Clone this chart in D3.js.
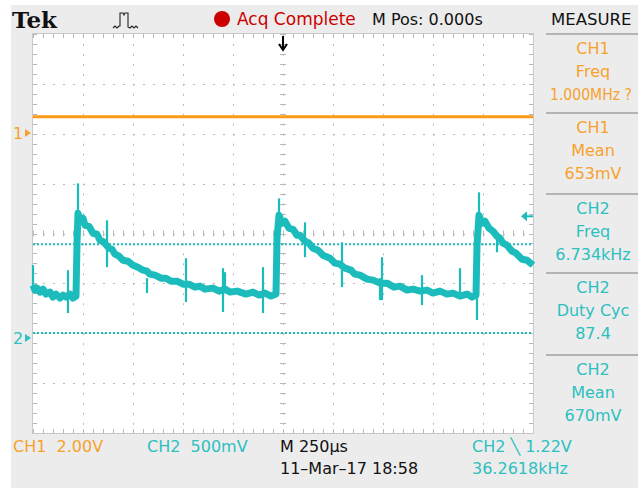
<!DOCTYPE html>
<html><head><meta charset="utf-8">
<script src="https://cdn.jsdelivr.net/npm/d3@7"></script>
<style>html,body{margin:0;padding:0;background:#fff}svg{display:block}</style>
</head><body>
<script>
// ---------- DATA ----------
// CH2 trace: time (µs) and voltage (V), read from screen (250 µs/div, 500 mV/div)
const ch2Time = [-1250,-1240,-1230,-1215,-1200,-1185,-1165,-1150,-1135,-1115,-1100,-1085,-1065,-1050,-1035,
  -1030,-1025,-1015,-1000,-990,-970,-950,-930,-915,-895,-870,-855,-840,-820,-800,-775,-750,-725,-700,-680,-665,-640,-610,-585,-560,-530,-500,-470,-440,-415,-390,-350,-320,-290,-265,-230,-185,-150,-120,-90,-60,-35,
  -30,-20,-5,10,30,50,70,85,110,130,150,175,200,235,260,285,310,340,360,385,420,450,485,520,555,585,620,650,685,720,750,785,820,850,885,920,945,965,
  970,980,995,1010,1030,1050,1070,1085,1100,1120,1145,1165,1195,1220,1250];
const ch2Volt = [0.53,0.48,0.50,0.46,0.49,0.44,0.46,0.41,0.44,0.40,0.43,0.41,0.44,0.40,0.42,
  0.95,1.25,1.18,1.20,1.13,1.12,1.05,1.04,0.98,0.96,0.90,0.89,0.84,0.82,0.78,0.77,0.73,0.71,0.68,0.67,0.64,0.63,0.60,0.60,0.57,0.57,0.54,0.54,0.51,0.52,0.49,0.50,0.47,0.49,0.46,0.47,0.44,0.46,0.43,0.45,0.42,0.44,
  1.00,1.23,1.15,1.17,1.10,1.09,1.03,1.03,0.97,0.95,0.90,0.88,0.83,0.80,0.75,0.74,0.70,0.68,0.64,0.63,0.59,0.58,0.55,0.55,0.51,0.52,0.48,0.49,0.47,0.48,0.45,0.47,0.44,0.45,0.42,0.44,0.41,0.43,
  0.93,1.23,1.15,1.17,1.10,1.07,1.02,1.00,0.95,0.93,0.87,0.85,0.79,0.78,0.73];
// Noise spikes on CH2: time, top voltage, bottom voltage
const spikeTime = [-1250,-1075,-1025,-880,-680,-485,-300,-290,-100,-20,110,295,485,495,695,885,970,980,1070];
const spikeHi   = [0.73,0.68,1.55,1.18,0.60,0.80,0.70,0.66,0.71,1.40,1.16,0.96,0.60,0.81,0.63,0.70,0.93,1.46,1.00];
const spikeLo   = [0.50,0.25,1.20,0.71,0.45,0.36,0.26,0.45,0.25,1.10,0.81,0.51,0.38,0.38,0.33,0.44,0.18,1.10,0.86];
// CH1 trace (V), 2 V/div
const ch1Time = [-1250, 1250];
const ch1Volt = [0.653, 0.653];
// CH2 dotted reference levels (V)
const ch2RefLevels = [0.94, 0.05];
const triggerLevel = 1.22;
// Grid divisions
const xDivs = d3.range(0, 11);
const yDivs = d3.range(0, 9);
// Measurement panel
const measTitles = ["CH1","CH1","CH2","CH2","CH2"];
const measNames  = ["Freq","Mean","Freq","Duty Cyc","Mean"];
const measValues = ["1.000MHz ?","653mV","6.734kHz","87.4","670mV"];
const measChan   = [1,1,2,2,2];

// ---------- STYLE ----------
const W = 638, H = 488;
const ORANGE = "#f7a22c", ORANGE_LINE = "#ff9a14", CYAN = "#1cbcbc", CYAN_TXT = "#2cc0c0";
const FONT = "DejaVu Sans, sans-serif";
const plot = {x0: 33, x1: 533, y0: 34, y1: 433};
const divH = (plot.y1 - plot.y0) / 8;

const svg = d3.select("body").append("svg").attr("width", W).attr("height", H);
svg.append("rect").attr("width", W).attr("height", H).attr("fill", "#fff");
svg.append("rect").attr("x", 11).attr("y", 5).attr("width", W - 11).attr("height", H - 5).attr("fill", "#ececec");
svg.append("rect").attr("x", plot.x0).attr("y", plot.y0).attr("width", plot.x1 - plot.x0).attr("height", plot.y1 - plot.y0).attr("fill", "#fff");

// scales
const xDiv = d3.scaleLinear().domain([0, 10]).range([plot.x0, plot.x1]);
const yDiv = d3.scaleLinear().domain([0, 8]).range([plot.y0, plot.y1]);
const xT = d3.scaleLinear().domain([-1250, 1250]).range([plot.x0, plot.x1]);
const gnd2 = 338, gnd1 = 133;
const y2 = d3.scaleLinear().domain([0, 0.5]).range([gnd2, gnd2 - divH]);
const y1 = d3.scaleLinear().domain([0, 2]).range([gnd1, gnd1 - divH]);

// ---------- GRID ----------
const grid = svg.append("g").attr("stroke", "#b8b8b8").attr("stroke-width", 1);
const stepMinor = divH / 5;
xDivs.slice(1, 10).forEach(d => {
  const x = Math.round(xDiv(d)) + 0.5;
  grid.append("line").attr("x1", x).attr("x2", x).attr("y1", plot.y0).attr("y2", plot.y1)
    .attr("stroke-dasharray", "2," + (stepMinor - 2).toFixed(2));
});
yDivs.slice(1, 8).forEach(d => {
  const y = Math.round(yDiv(d)) + 0.5;
  grid.append("line").attr("x1", plot.x0).attr("x2", plot.x1).attr("y1", y).attr("y2", y)
    .attr("stroke-dasharray", "2,8");
});
const xMinor = d3.range(0, 51).map(i => plot.x0 + i * 10);
const yMinor = d3.range(0, 41).map(i => plot.y0 + i * divH / 5);
xMinor.forEach(x => {
  const xx = Math.round(x) + 0.5;
  grid.append("line").attr("x1", xx).attr("x2", xx).attr("y1", plot.y0).attr("y2", plot.y0 + 4);
  grid.append("line").attr("x1", xx).attr("x2", xx).attr("y1", plot.y1 - 4).attr("y2", plot.y1);
  const yc = yDiv(4);
  grid.append("line").attr("x1", xx).attr("x2", xx).attr("y1", yc - 3).attr("y2", yc + 3);
});
yMinor.forEach(y => {
  const yy = Math.round(y) + 0.5;
  grid.append("line").attr("x1", plot.x0).attr("x2", plot.x0 + 4).attr("y1", yy).attr("y2", yy);
  grid.append("line").attr("x1", plot.x1 - 4).attr("x2", plot.x1).attr("y1", yy).attr("y2", yy);
  const xc = xDiv(5);
  grid.append("line").attr("x1", xc - 3).attr("x2", xc + 3).attr("y1", yy).attr("y2", yy);
});
svg.append("rect").attr("x", plot.x0 - 0.5).attr("y", plot.y0 - 0.5).attr("width", plot.x1 - plot.x0 + 1).attr("height", plot.y1 - plot.y0 + 1)
  .attr("fill", "none").attr("stroke", "#c8c8c8");

// ---------- REFERENCE LEVELS ----------
ch2RefLevels.forEach(v => {
  svg.append("line").attr("x1", plot.x0).attr("x2", plot.x1).attr("y1", y2(v)).attr("y2", y2(v))
    .attr("stroke", CYAN).attr("stroke-width", 2).attr("stroke-dasharray", "2,2");
});

// ---------- TRACES ----------
const ch1 = ch1Time.map((t, i) => [t, ch1Volt[i]]);
svg.append("path").datum(ch1).attr("fill", "none").attr("stroke", ORANGE_LINE).attr("stroke-width", 3)
  .attr("d", d3.line().x(d => xT(d[0])).y(d => y1(d[1])));

const ch2 = ch2Time.map((t, i) => [t, ch2Volt[i]]);
svg.append("path").datum(ch2).attr("fill", "none").attr("stroke", CYAN).attr("stroke-width", 7)
  .attr("stroke-linejoin", "round")
  .attr("d", d3.line().x(d => xT(d[0])).y(d => y2(d[1])));
svg.append("g").selectAll("line").data(spikeTime).join("line")
  .attr("x1", d => xT(d)).attr("x2", d => xT(d))
  .attr("y1", (d, i) => y2(spikeHi[i])).attr("y2", (d, i) => y2(spikeLo[i]))
  .attr("stroke", CYAN).attr("stroke-width", 2.2);

// ---------- MARKERS ----------
function chMarker(label, y, color) {
  svg.append("text").attr("x", 13).attr("y", y + 6).attr("font-family", FONT).attr("font-size", 16)
    .attr("fill", color).text(label);
  svg.append("path").attr("d", `M25,${y - 4}L31,${y}L25,${y + 4}Z`).attr("fill", color);
}
chMarker("1", gnd1, ORANGE);
chMarker("2", gnd2, CYAN_TXT);
const xTrig = xT(0);
svg.append("path").attr("d", `M${xTrig},36V49M${xTrig - 4},44L${xTrig},50L${xTrig + 4},44`)
  .attr("stroke", "#000").attr("stroke-width", 2).attr("fill", "none");
const yTl = y2(triggerLevel);
svg.append("path").attr("d", `M521,${yTl}L527,${yTl - 5}L527,${yTl + 5}Z`).attr("fill", CYAN);
svg.append("line").attr("x1", 526).attr("x2", 533).attr("y1", yTl).attr("y2", yTl).attr("stroke", CYAN).attr("stroke-width", 2);

// ---------- HEADER ----------
svg.append("text").attr("x", 12).attr("y", 28).attr("font-family", "DejaVu Serif, serif").attr("font-weight", "bold")
  .attr("font-size", 23).attr("fill", "#111").text("Tek");
svg.append("path").attr("d", "M113,28l2,-2l2,2l2,-2l1,0V13h3l1,2l1,-2h3V27l2,1l2,-2l2,2l2,-2l2,2")
  .attr("fill", "none").attr("stroke", "#222").attr("stroke-width", 1.1);
svg.append("circle").attr("cx", 222).attr("cy", 19).attr("r", 8).attr("fill", "#cc0000");
svg.append("text").attr("x", 237).attr("y", 25).attr("font-family", FONT).attr("font-size", 17).attr("fill", "#cc0000").text("Acq Complete");
svg.append("text").attr("x", 372).attr("y", 25).attr("font-family", FONT).attr("font-size", 16).attr("fill", "#111").text("M Pos: 0.000s");
svg.append("text").attr("x", 551).attr("y", 25).attr("font-family", FONT).attr("font-size", 16.5).attr("fill", "#111").text("MEASURE");

// ---------- MEASURE PANEL ----------
const sepY = [34, 113, 194, 273, 355];
sepY.forEach(y => svg.append("line").attr("x1", 546).attr("x2", 638).attr("y1", y).attr("y2", y)
  .attr("stroke", "#b4b4b4").attr("stroke-width", 2));
measTitles.forEach((t, i) => {
  const c = measChan[i] === 1 ? ORANGE : CYAN_TXT;
  const base = sepY[i] + 20;
  [t, measNames[i], measValues[i]].forEach((s, j) => {
    const txt = svg.append("text").attr("x", 593).attr("y", base + j * 23).attr("text-anchor", "middle")
      .attr("font-family", FONT).attr("font-size", 16).attr("fill", c).text(s);
    if (s.length > 9) txt.attr("x", 591).attr("font-size", 15).attr("textLength", 82).attr("lengthAdjust", "spacingAndGlyphs");
  });
});

// ---------- FOOTER ----------
const foot = [
  {x: 13, y: 452, t: "CH1  2.00V", c: ORANGE},
  {x: 147, y: 452, t: "CH2  500mV", c: CYAN_TXT},
  {x: 280, y: 452, t: "M 250\u00b5s", c: "#111"},
  {x: 280, y: 474, t: "11\u2013Mar\u201317 18:58", c: "#111"},
  {x: 472, y: 452, t: "CH2 \u2572 1.22V", c: CYAN_TXT},
  {x: 472, y: 474, t: "36.2618kHz", c: CYAN_TXT}
];
foot.forEach(f => svg.append("text").attr("x", f.x).attr("y", f.y).attr("font-family", FONT)
  .attr("font-size", 16).attr("fill", f.c).attr("xml:space", "preserve").style("white-space", "pre").text(f.t));
</script>
</body></html>
